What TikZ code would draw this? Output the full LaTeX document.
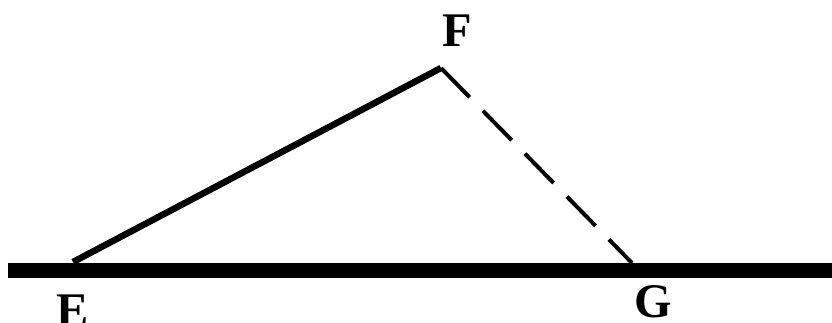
\documentclass[tikz,border=0pt]{standalone}
\usepackage{fontspec}
\setmainfont{Liberation Serif}
\usetikzlibrary{positioning}

\begin{document}
\begin{tikzpicture}[
  x=0.02cm,y=-0.02cm,
  lbl/.style={font=\fontsize{27.5}{30}\selectfont\bfseries,inner sep=0pt},
  base/.style={line width=0.30cm},
  side/.style={line width=0.13cm,line join=miter},
  hidden/.style={line width=0.08cm,dash pattern=on 0.82cm off 0.38cm},
]
\useasboundingbox (0,0) rectangle (832,322);

% points of the triangle and ends of the ground line
\coordinate (E) at (73,262);
\coordinate (F) at (441,68);
\coordinate (G) at (632,263);
\coordinate (L) at (8,270);
\coordinate (R) at (840,270);

% ---------------- ground line ----------------
\draw[base] (L) -- (R);

% ---------------- sides ----------------
\draw[side] (E) -- (F);
\draw[hidden] (F) -- (G);

% ---------------- labels ----------------
\node[lbl] (Elbl) at (73,311) {E};
\node[lbl] (Flbl) at (457,31) {F};
\node[lbl] (Glbl) at (653,302) {G};

\end{tikzpicture}
\end{document}
